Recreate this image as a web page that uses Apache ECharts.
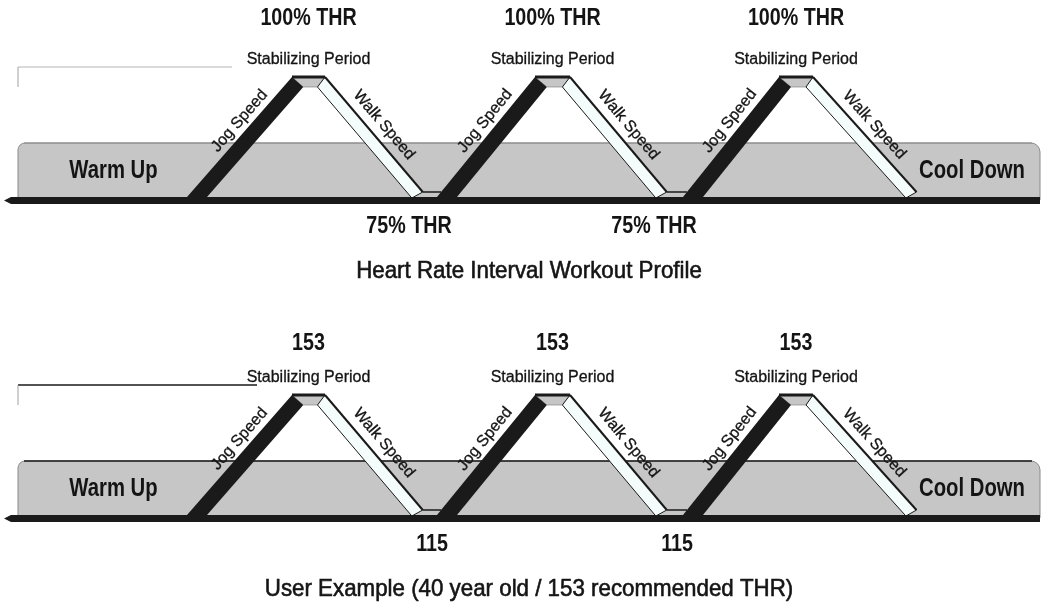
<!DOCTYPE html>
<html><head><meta charset="utf-8">
<script src="https://cdn.jsdelivr.net/npm/echarts@6/dist/echarts.min.js"></script>
<style>html,body{margin:0;padding:0;background:#fff}#c{width:1042px;height:609px}</style>
</head><body><div id="c"></div>
<script>
// Breakpoints of the interval profile along the workout (horizontal position)
const profileX = [18, 187, 292, 325, 427, 437, 535, 570, 671, 683, 779, 813, 921, 1040];
// Heart-rate level at each breakpoint, % of target heart rate
const thrPercent = [75, 75, 100, 100, 75, 75, 100, 100, 75, 75, 100, 100, 75, 75];
// Same profile for the user example, beats per minute
const userBpm = [115, 115, 153, 153, 115, 115, 153, 153, 115, 115, 153, 153, 115, 115];
const zoneLabels = ['Warm Up', 'Cool Down'];
const riseLabel = 'Jog Speed';
const fallLabel = 'Walk Speed';
const plateauLabel = 'Stabilizing Period';
const panelTitles = ['Heart Rate Interval Workout Profile', 'User Example (40 year old / 153 recommended THR)'];
const levelFormat = [v => v + '% THR', v => String(v)];

const FONT = '"Liberation Sans", Arial, sans-serif';
const INK = '#1a1a1a';
const GRAY = '#c6c6c6';
const JT = 20, WT = 16, PD = 10;

const panels = [
  {values: thrPercent, min: 75, max: 100, top: 77, title: panelTitles[0], fmt: levelFormat[0], peakDy: -59, valleyDx: -23, edge: '#8e8e8e', deco: '#b4b4b4', decoLen: 214, decoW: 1},
  {values: userBpm, min: 115, max: 153, top: 395, title: panelTitles[1], fmt: levelFormat[1], peakDy: -52, valleyDx: 0, edge: INK, deco: INK, decoLen: 239, decoW: 1.5}
];

function txt(x, y, s, o) {
  const st = {text: s, fill: '#141414', fontSize: o.size, fontFamily: FONT, fontWeight: o.bold ? 'bold' : 'normal', align: 'center', verticalAlign: 'middle'};
  if (o.thick) { st.stroke = '#141414'; st.lineWidth = o.thick; }
  return {type: 'text', x: x, y: y, rotation: o.rot || 0, scaleX: o.sx || 1, z2: 10, style: st};
}
function riseEdges(bot, top) {
  const k = (top[0] - bot[0]) / (bot[1] - top[1]);
  const o = y => bot[0] + (bot[1] - y) * k;
  return {o: o, i: y => o(y) + JT};
}
function fallEdges(top, bot) {
  const k = (bot[0] - top[0]) / (bot[1] - top[1]);
  const o = y => top[0] + (y - top[1]) * k;
  return {o: o, i: y => o(y) - WT};
}
function poly(points, style, z2) { return {type: 'polygon', z2: z2, shape: {points: points}, style: style}; }
function line(x1, y1, x2, y2, stroke, w, z2) { return {type: 'line', z2: z2, shape: {x1: x1, y1: y1, x2: x2, y2: y2}, style: {stroke: stroke, lineWidth: w}}; }

function makeRender(p) {
  return function (params, api) {
    const j = params.dataIndex;
    const n = profileX.length;
    const pts = profileX.map((x, k) => api.coord([x, p.values[k]]));
    const base = api.coord([0, p.min])[1];
    const top = api.coord([0, p.max])[1];
    const A = pts[j], B = pts[j + 1];
    const v0 = p.values[j], v1 = p.values[j + 1];
    const ch = [];
    const x0 = pts[0][0], xN = pts[n - 1][0];
    if (j === 0) {
      ch.push({type: 'rect', z2: 0, shape: {x: x0, y: base - 54, width: xN - x0, height: 57, r: [7, 9, 0, 0]}, style: {fill: GRAY, stroke: '#8a8a8a', lineWidth: 1}});
      ch.push(line(x0 + 6, base - 54, xN - 8, base - 54, p.edge, p.edge === INK ? 1.6 : 1, 1));
      ch.push(poly([[x0 - 14, base + 3.5], [x0 - 7, base], [xN, base], [xN, base + 7], [x0 - 7, base + 7]], {fill: INK}, 6));
      ch.push(line(x0, top - 10, x0 + p.decoLen, top - 10, p.deco, p.decoW, 1));
      ch.push(line(x0, top - 10, x0, top + 10, '#a0a0a0', 1, 1));
      ch.push(txt((x0 + xN) / 2, base + 74, p.title, {size: 24, sx: 0.93, thick: 0.6}));
      ch.push(txt(x0 + 95.5, base - 26, zoneLabels[0], {size: 26, bold: true, sx: 0.78}));
    }
    if (j === n - 2) {
      ch.push(txt(xN - 68, base - 26, zoneLabels[1], {size: 26, bold: true, sx: 0.78}));
    }
    if (v1 > v0) {
      const e = riseEdges(A, B);
      ch.push(poly([[e.o(base + 1), base + 1], [B[0], B[1]], [e.i(B[1] + PD), B[1] + PD], [e.i(base + 1), base + 1]], {fill: INK}, 4));
      const ty = B[1] + 44;
      ch.push(txt(e.o(ty) - 14, ty, riseLabel, {size: 16, thick: 0.3, rot: Math.atan2(A[1] - B[1], B[0] - A[0])}));
    } else if (v1 < v0) {
      const e = fallEdges(A, B);
      ch.push(poly([[A[0], A[1]], [e.o(base - 5), base - 5], [e.i(base + 1), base + 1], [e.i(A[1] + PD), A[1] + PD]], {fill: '#f4fcfc', stroke: INK, lineWidth: 1}, 4));
      ch.push(line(A[0], A[1], e.o(base - 5), base - 5, INK, 2, 5));
      const ty = A[1] + 48;
      ch.push(txt(e.o(ty) + 18, ty, fallLabel, {size: 16, thick: 0.3, rot: -Math.atan2(B[1] - A[1], B[0] - A[0])}));
    } else if (v0 === p.max) {
      const eR = riseEdges(pts[j - 1], A);
      const eF = fallEdges(B, pts[j + 2]);
      ch.push(poly([[A[0], A[1]], [B[0], B[1]], [eF.i(A[1] + PD), A[1] + PD], [eR.i(A[1] + PD), A[1] + PD]], {fill: GRAY, stroke: '#777', lineWidth: 0.6}, 2));
      ch.push(line(A[0], A[1], B[0], B[1], INK, 3, 5));
      const mx = (A[0] + B[0]) / 2;
      ch.push(txt(mx, top + p.peakDy, p.fmt(v0), {size: 24, bold: true, sx: 0.82}));
      ch.push(txt(mx, top - 17.5, plateauLabel, {size: 16, thick: 0.3}));
    } else if (j > 0 && j < n - 2) {
      const eF = fallEdges(pts[j - 1], A);
      const eR = riseEdges(B, pts[j + 2]);
      ch.push(poly([[eF.o(base - 5), base - 5], [eR.o(base - 5), base - 5], [eR.o(base + 1), base + 1], [eF.i(base + 1), base + 1]], {fill: GRAY}, 2));
      ch.push(line(eF.o(base - 5), base - 5, eR.o(base - 5), base - 5, INK, 1.5, 3));
      const mx = (A[0] + B[0]) / 2;
      ch.push(txt(mx + p.valleyDx, base + 29, p.fmt(v0), {size: 24, bold: true, sx: 0.82}));
    }
    return {type: 'group', children: ch};
  };
}

const chart = echarts.init(document.getElementById('c'));
chart.setOption({
  animation: false,
  grid: panels.map(p => ({left: 0, width: 1042, top: p.top, height: 120})),
  xAxis: panels.map((p, k) => ({type: 'value', gridIndex: k, min: 0, max: 1042, show: false})),
  yAxis: panels.map((p, k) => ({type: 'value', gridIndex: k, min: p.min, max: p.max, show: false})),
  series: panels.map((p, k) => ({
    type: 'custom', xAxisIndex: k, yAxisIndex: k, silent: true, clip: false,
    encode: {x: [0, 2], y: [1, 3]},
    data: profileX.slice(0, -1).map((x, i) => [x, p.values[i], profileX[i + 1], p.values[i + 1]]),
    renderItem: makeRender(p)
  }))
});
</script></body></html>
